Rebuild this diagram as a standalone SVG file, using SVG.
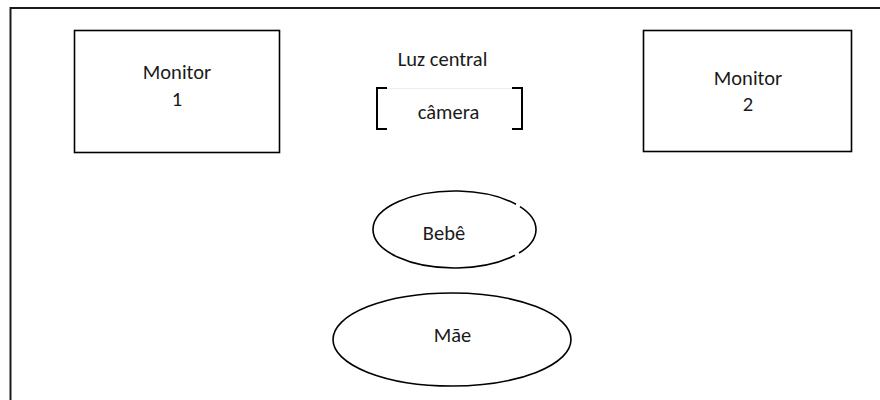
<svg xmlns="http://www.w3.org/2000/svg" width="880" height="400" viewBox="0 0 880 400">
  <style>
    .frame { fill: none; stroke: #1a1a1a; stroke-width: 2; }
    .box { fill: #ffffff; stroke: #000000; stroke-width: 1.6; }
    .shape { fill: none; stroke: #000000; stroke-width: 1.6; }
    .bracket { fill: none; stroke: #000000; stroke-width: 2; }
    .lbl { font-family: Carlito, Calibri, Lato, "Open Sans", sans-serif; font-size: 20.5px; fill: #1a1a1a; text-anchor: middle; }
  </style>
  <rect width="880" height="400" fill="#ffffff"/>
  <!-- room outline -->
  <rect class="frame" x="10.5" y="8" width="900" height="420"/>

  <g id="monitor1">
    <rect class="box" x="74.5" y="30.5" width="205" height="122"/>
    <text class="lbl" x="177" y="79">Monitor</text>
    <text class="lbl" x="177" y="106">1</text>
  </g>

  <g id="monitor2">
    <rect class="box" x="643.5" y="30.5" width="208" height="121"/>
    <text class="lbl" x="748" y="85">Monitor</text>
    <text class="lbl" x="748" y="111">2</text>
  </g>

  <g id="luz-central">
    <text class="lbl" x="442.5" y="66">Luz central</text>
  </g>

  <g id="camera">
    <line x1="377" y1="88.5" x2="522" y2="88.5" stroke="#ececec" stroke-width="1"/>
    <path class="bracket" d="M387 88 H377 V129 H387"/>
    <path class="bracket" d="M512 88 H522 V129 H512"/>
    <text class="lbl" x="448.5" y="119">câmera</text>
  </g>

  <g id="bebe">
    <path class="shape" d="M516 204.24 A81.5 38.5 0 1 0 515 255.29 M519 253.04 A81.5 38.5 0 0 0 520 206.59"/>
    <text class="lbl" x="444" y="240">Bebê</text>
  </g>

  <g id="mae">
    <ellipse class="shape" cx="452" cy="339.5" rx="119" ry="46.5"/>
    <text class="lbl" x="452.5" y="342">Mãe</text>
  </g>

  <g id="connectors"></g>
</svg>
